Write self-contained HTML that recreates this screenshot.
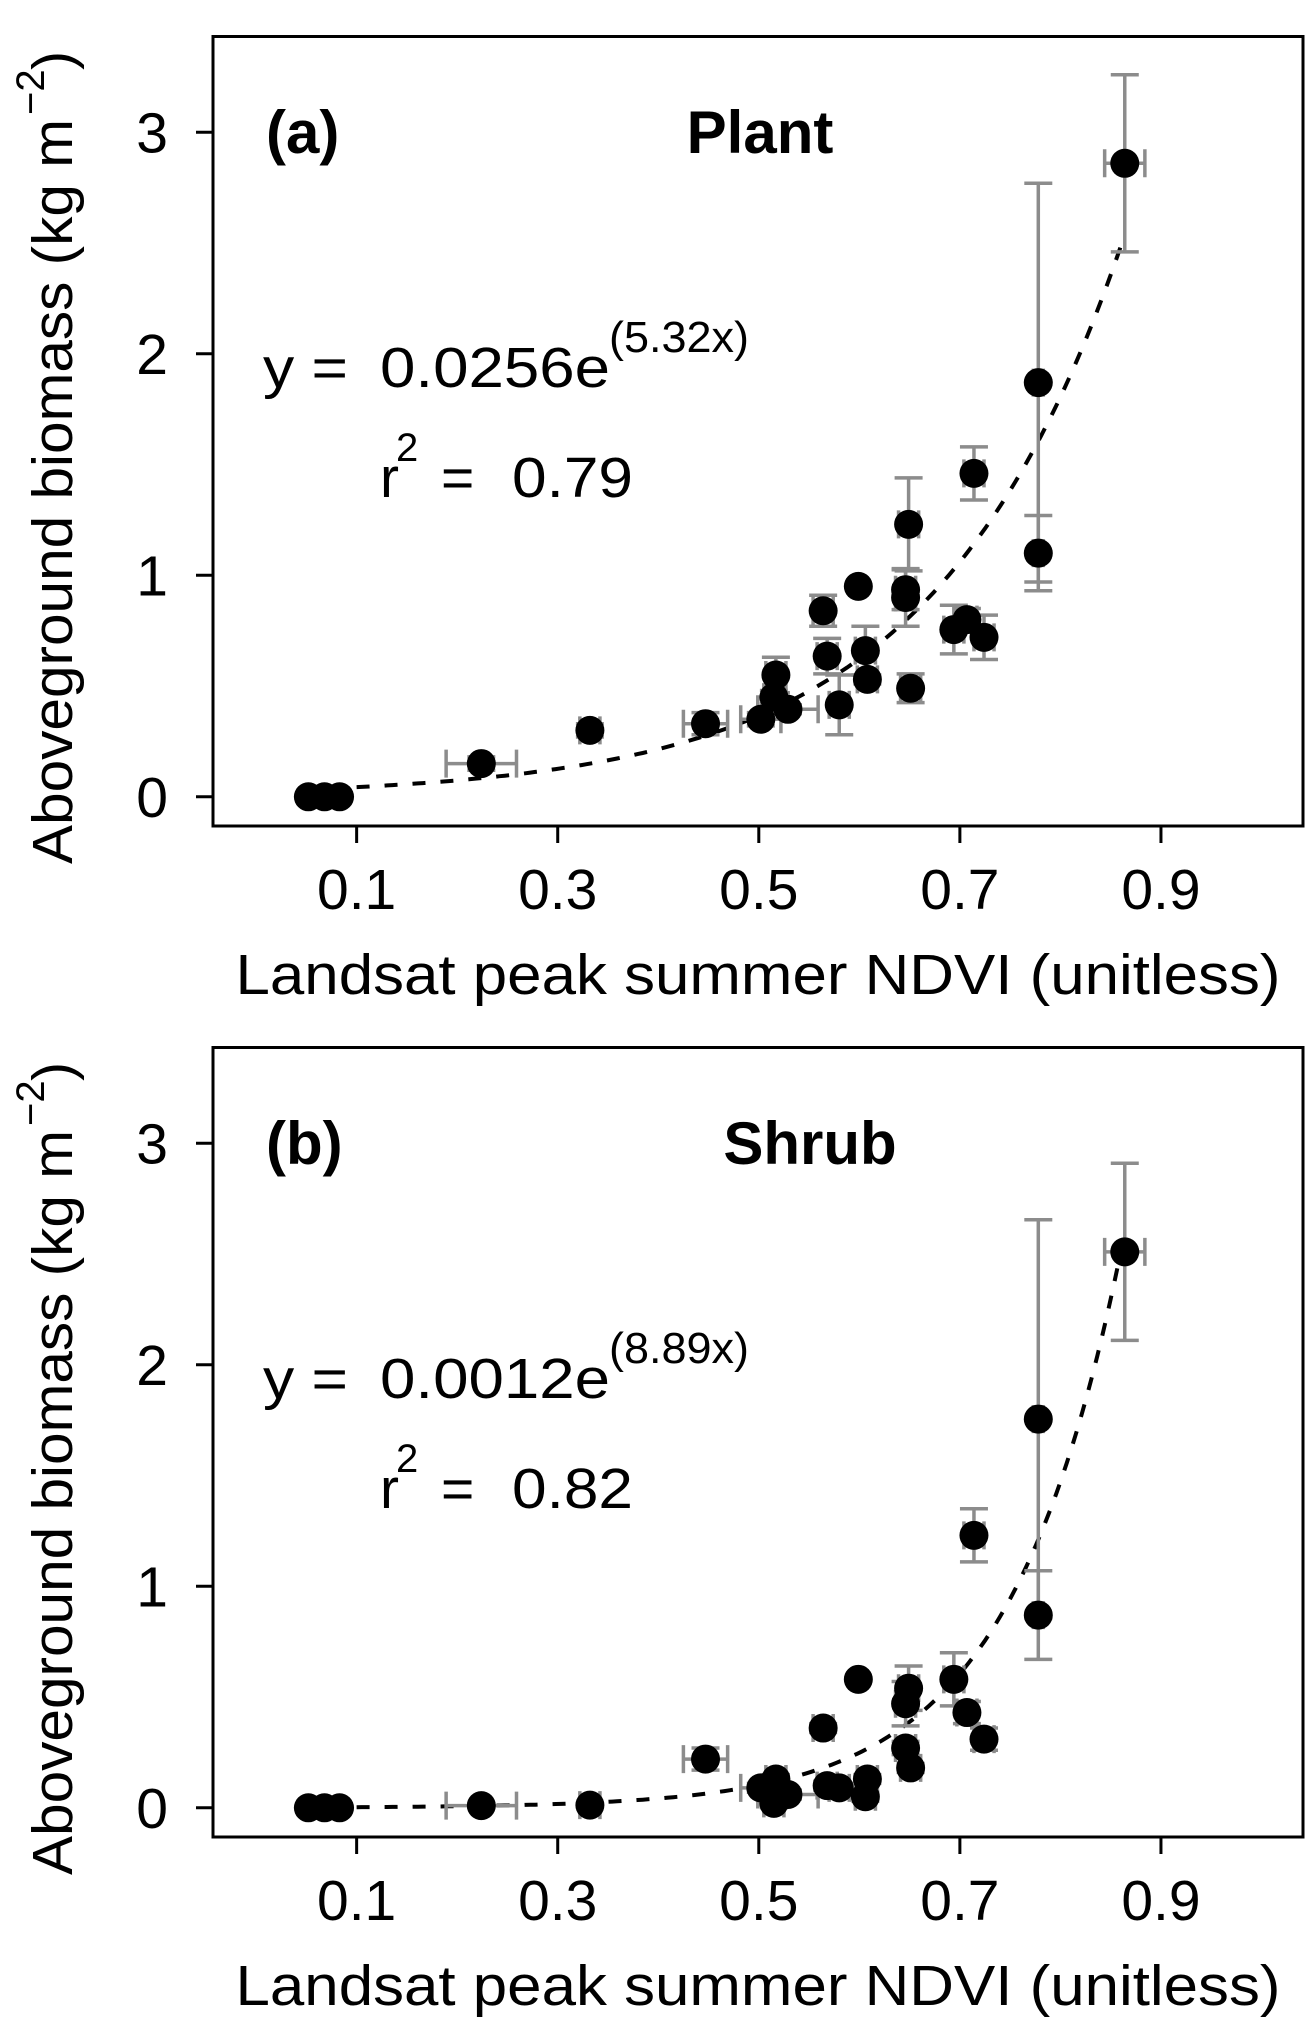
<!DOCTYPE html>
<html><head><meta charset="utf-8"><style>
html,body{margin:0;padding:0;background:#fff;}
svg{display:block;font-family:"Liberation Sans",Arial,sans-serif;}
</style></head><body>
<svg id="chart" width="1307" height="2034" viewBox="0 0 1307 2034" xmlns="http://www.w3.org/2000/svg"></svg>
<script>
// ---- data ----
const xTicks = [0.1, 0.3, 0.5, 0.7, 0.9];
const xTickLabels = ["0.1", "0.3", "0.5", "0.7", "0.9"];
const yTicks = [0, 1, 2, 3];
const yTickLabels = ["0", "1", "2", "3"];

const plantX  = [0.052,0.068,0.083,0.224,0.332,0.447,0.502,0.517,0.515,0.529,0.580,0.564,0.568,0.599,0.606,0.608,0.649,0.646,0.646,0.651,0.694,0.707,0.724,0.714,0.778,0.778,0.864];
const plantY  = [0,0,0,0.15,0.30,0.33,0.35,0.55,0.45,0.395,0.415,0.84,0.635,0.95,0.66,0.53,1.23,0.935,0.90,0.49,0.755,0.80,0.72,1.46,1.87,1.10,2.86];
const plantEY = [0,0,0,0.03,0.03,0.05,0.03,0.08,0.03,0.02,0.135,0.07,0.08,0,0.11,0.02,0.21,0.09,0.13,0.065,0.11,0.05,0.10,0.12,0.90,0.17,0.40];
const plantEX = [0,0,0,0.035,0.01,0.022,0.02,0.01,0.01,0.03,0.01,0.01,0.01,0,0.01,0.01,0.01,0.01,0.01,0.01,0.01,0.01,0.01,0.01,0.005,0.005,0.02];

const shrubX  = [0.052,0.068,0.083,0.224,0.332,0.447,0.502,0.517,0.515,0.529,0.564,0.568,0.580,0.599,0.606,0.608,0.649,0.646,0.646,0.651,0.694,0.707,0.724,0.714,0.778,0.778,0.864];
const shrubY  = [0,0,0,0.01,0.012,0.22,0.09,0.13,0.02,0.06,0.36,0.10,0.09,0.58,0.05,0.13,0.54,0.47,0.27,0.18,0.58,0.43,0.31,1.23,1.755,0.87,2.51];
const shrubEY = [0,0,0,0.01,0.01,0.05,0.02,0.02,0.02,0.02,0.02,0.02,0.02,0,0.02,0.02,0.10,0.10,0.03,0.02,0.12,0.05,0.05,0.12,0.90,0.20,0.40];
const shrubEX = [0,0,0,0.035,0.01,0.022,0.02,0.01,0.01,0.03,0.01,0.01,0.01,0,0.01,0.01,0.01,0.01,0.01,0.01,0.01,0.01,0.01,0.01,0.005,0.005,0.02];

const plantFit = [0.0256, 5.32];
const shrubFit = [0.0012, 8.89];

// ---- layout ----
const NS = "http://www.w3.org/2000/svg";
const svg = document.getElementById("chart");
function mk(tag, attrs, parent){
  const e = document.createElementNS(NS, tag);
  for (const k in attrs) e.setAttribute(k, attrs[k]);
  (parent||svg).appendChild(e);
  return e;
}
const xScale = v => 256.1 + v * 1005.4;

function panel(off, name, tag, title, titleX, X, Y, EY, EX, fit, eqText, supText, r2Text){
  const g = mk("g", {});
  
  
  const y0 = 796.8 + off, unit = 221.5;
  const yScale = v => y0 - v * unit;
  const top = 36.5 + off, bot = 826 + off;

  xTicks.forEach((t,i)=>{
    const l = mk("line",{x1:xScale(t),x2:xScale(t),y1:bot,y2:bot+17,stroke:"#000","stroke-width":3},g);
    
    
    const tx = mk("text",{x:xScale(t),y:bot+83,"font-size":57,"text-anchor":"middle"},g);
    
    
    tx.textContent = xTickLabels[i];
  });
  yTicks.forEach((t,i)=>{
    const l = mk("line",{x1:196,x2:213,y1:yScale(t),y2:yScale(t),stroke:"#000","stroke-width":3},g);
    
    
    const tx = mk("text",{x:168,y:yScale(t)+20,"font-size":57,"text-anchor":"end"},g);
    
    
    tx.textContent = yTickLabels[i];
  });
  const xt = mk("text",{x:758,y:off+994,"font-size":57,"text-anchor":"middle",textLength:1045,lengthAdjust:"spacingAndGlyphs"},g);
  
  
  xt.textContent = "Landsat peak summer NDVI (unitless)";
  const yt = mk("text",{x:0,y:0,"font-size":57,textLength:745,lengthAdjust:"spacingAndGlyphs",transform:`translate(72,${off+864}) rotate(-90)`},g);
  
  
  yt.textContent = "Aboveground biomass (kg m";
  const ys = mk("text",{x:0,y:0,"font-size":40,transform:`translate(44,${off+115}) rotate(-90)`},g);
  
  
  ys.textContent = "\u22122";
  const yp = mk("text",{x:0,y:0,"font-size":57,transform:`translate(72,${off+70}) rotate(-90)`},g);
  
  
  yp.textContent = ")";

  let d = "";
  for (let i=0;i<=150;i++){
    const xv = 0.1 + (0.862-0.1)*i/150;
    const yv = fit[0]*Math.exp(fit[1]*xv);
    d += (i?"L":"M") + xScale(xv).toFixed(1) + "," + yScale(yv).toFixed(1);
  }
  const fc = mk("path",{d:d,fill:"none",stroke:"#000","stroke-width":4,"stroke-dasharray":"13 15"},g);
  
  

  const cap = 14;
  X.forEach((xv,i)=>{
    const cx = xScale(xv), cy = yScale(Y[i]);
    if (EY[i] > 0){
      const y1 = yScale(Y[i]+EY[i]), y2 = yScale(Y[i]-EY[i]);
      const eb = mk("path",{d:`M${cx},${y1}L${cx},${y2}M${cx-cap},${y1}L${cx+cap},${y1}M${cx-cap},${y2}L${cx+cap},${y2}`,stroke:"#8c8c8c","stroke-width":3.5,fill:"none"},g);
      
      
    }
    if (EX[i] > 0){
      const x1 = xScale(xv-EX[i]), x2 = xScale(xv+EX[i]);
      const eb = mk("path",{d:`M${x1},${cy}L${x2},${cy}M${x1},${cy-cap}L${x1},${cy+cap}M${x2},${cy-cap}L${x2},${cy+cap}`,stroke:"#8c8c8c","stroke-width":3.5,fill:"none"},g);
      
      
    }
  });
  X.forEach((xv,i)=>{
    const c = mk("circle",{cx:xScale(xv),cy:yScale(Y[i]),r:14.5,fill:"#000"},g);
    
    
  });

  const box = mk("rect",{x:213,y:top,width:1090,height:bot-top,fill:"none",stroke:"#000","stroke-width":3},g);
  
  

  const pl = mk("text",{x:266,y:off+153,"font-size":60,"font-weight":"bold"},g);
  
  
  pl.textContent = tag;
  const tt = mk("text",{x:titleX,y:off+153,"font-size":60,"font-weight":"bold","text-anchor":"middle"},g);
  
  
  tt.textContent = title;

  const e1 = mk("text",{x:263,y:off+387,"font-size":57,textLength:85,lengthAdjust:"spacingAndGlyphs"},g);
  
  
  e1.textContent = "y =";
  const e2 = mk("text",{x:380,y:off+387,"font-size":57,textLength:230,lengthAdjust:"spacingAndGlyphs"},g);
  
  
  e2.textContent = eqText;
  const e3 = mk("text",{x:609,y:off+352,"font-size":44,textLength:140,lengthAdjust:"spacingAndGlyphs"},g);
  
  
  e3.textContent = supText;
  const r1 = mk("text",{x:380,y:off+497,"font-size":57},g);
  
  
  r1.textContent = "r";
  const r2 = mk("text",{x:396,y:off+461,"font-size":40},g);
  
  
  r2.textContent = "2";
  const r3 = mk("text",{x:441,y:off+497,"font-size":57},g);
  
  
  r3.textContent = "=";
  const r4 = mk("text",{x:512,y:off+497,"font-size":57,textLength:121,lengthAdjust:"spacingAndGlyphs"},g);
  
  
  r4.textContent = r2Text;
}

panel(0, "panel-a-plant", "(a)", "Plant", 760, plantX, plantY, plantEY, plantEX, plantFit, "0.0256e", "(5.32x)", "0.79");
panel(1011, "panel-b-shrub", "(b)", "Shrub", 810, shrubX, shrubY, shrubEY, shrubEX, shrubFit, "0.0012e", "(8.89x)", "0.82");
</script>
</body></html>
